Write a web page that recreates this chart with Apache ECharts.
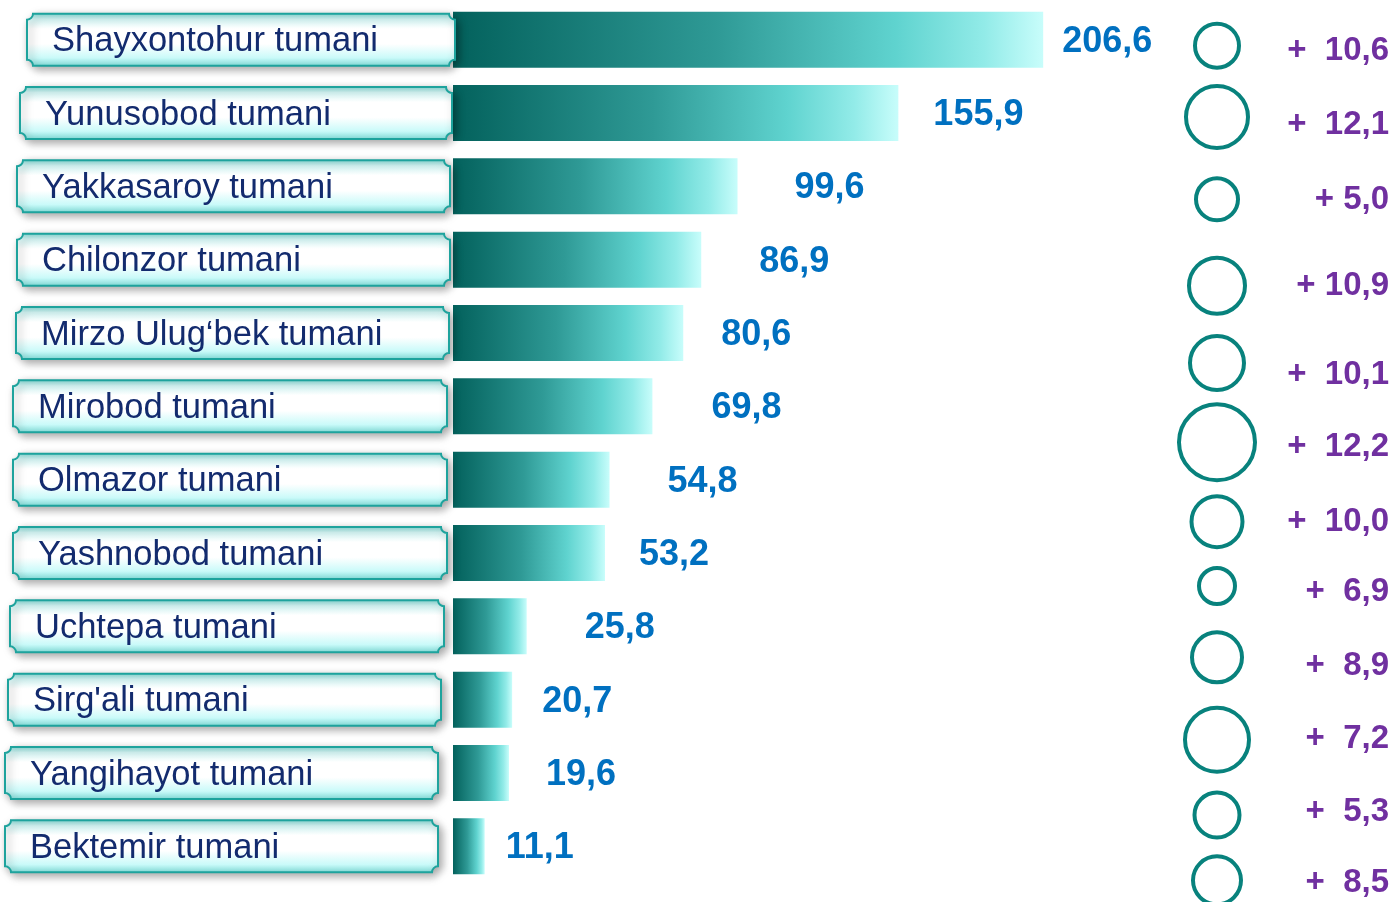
<!DOCTYPE html>
<html>
<head>
<meta charset="utf-8">
<title>Tumanlar</title>
<script src="https://cdn.jsdelivr.net/npm/echarts@6/dist/echarts.min.js"></script>
<style>
  html, body { margin: 0; padding: 0; background: #fff; }
  #chart { width: 1393px; height: 902px; }
</style>
</head>
<body>
<div id="chart"></div>
<script>
// districts, top to bottom
const districts = ['Shayxontohur tumani', 'Yunusobod tumani', 'Yakkasaroy tumani', 'Chilonzor tumani',
  'Mirzo Ulug‘bek tumani', 'Mirobod tumani', 'Olmazor tumani', 'Yashnobod tumani',
  'Uchtepa tumani', "Sirg'ali tumani", 'Yangihayot tumani', 'Bektemir tumani']
const values = [206.6, 155.9, 99.6, 86.9, 80.6, 69.8, 54.8, 53.2, 25.8, 20.7, 19.6, 11.1]
const growth = [10.6, 12.1, 5.0, 10.9, 10.1, 12.2, 10.0, 6.9, 8.9, 7.2, 5.3, 8.5]

// per-row layout tweaks (px), the slide is not perfectly aligned
const labelGap = [19, 35, 57, 58, 38, 59, 58, 34, 58, 30, 37, 21]
const boxShift = [2, -1, -3, -3, -4, -6, -6, -6, -9, -12, -15, -15]
const boxWidth = [428, 432, 433, 433, 433, 434, 434, 434, 434, 433, 433, 433]
const ringR = [22, 31, 21, 28, 27, 38, 25.5, 18, 25, 32, 22.5, 24]
const ringDy = [6, 4, 13, 26, 30, 36, 42, 33, 31, 40, 42, 34]
const growthDy = [11, 12, 14, 26, 42, 41, 42, 39, 40, 39, 39, 37]
const plusGap = [2, 2, 1, 1, 2, 2, 2, 2, 2, 2, 2, 2]

const font = '"Liberation Sans", Arial, sans-serif'
const fmt = v => v.toFixed(1).replace('.', ',')

const barFill = new echarts.graphic.LinearGradient(0, 0, 1, 0, [
  { offset: 0, color: '#03615c' },
  { offset: 0.45, color: '#2f9a96' },
  { offset: 0.75, color: '#5fd3cf' },
  { offset: 0.9, color: '#92ebe8' },
  { offset: 1, color: '#c8fdfb' }
])
const boxFill = new echarts.graphic.LinearGradient(0, 0, 0, 1, [
  { offset: 0, color: '#7fd6d2' },
  { offset: 0.12, color: '#d6f8f7' },
  { offset: 0.3, color: '#ffffff' },
  { offset: 0.58, color: '#ffffff' },
  { offset: 0.84, color: '#c9faf9' },
  { offset: 1, color: '#7fdfdb' }
])

function renderBox(params, api) {
  const i = params.dataIndex
  const c = api.coord([0, i])
  const x1 = c[0] + boxShift[i]
  const x0 = x1 - boxWidth[i]
  const y0 = c[1] - 26
  const y1 = c[1] + 26
  const r = 6
  // rectangle with small concave corners
  const d = [
    'M', x0 + r, y0, 'L', x1 - r, y0, 'A', r, r, 0, 0, 0, x1, y0 + r,
    'L', x1, y1 - r, 'A', r, r, 0, 0, 0, x1 - r, y1,
    'L', x0 + r, y1, 'A', r, r, 0, 0, 0, x0, y1 - r,
    'L', x0, y0 + r, 'A', r, r, 0, 0, 0, x0 + r, y0, 'Z'
  ].join(' ')
  return {
    type: 'group',
    children: [{
      type: 'path',
      shape: { pathData: d, x: x0, y: y0, width: x1 - x0, height: y1 - y0, layout: 'cover' },
      style: {
        fill: boxFill, stroke: '#1ea39d', lineWidth: 2,
        shadowBlur: 8, shadowColor: 'rgba(0,0,0,0.35)', shadowOffsetX: 3, shadowOffsetY: 3
      }
    }, {
      type: 'text',
      style: {
        text: districts[i], x: x0 + 25, y: c[1] + 2,
        align: 'left', verticalAlign: 'middle',
        fill: '#132b6e', font: '34.5px ' + font
      }
    }]
  }
}

function renderRing(params, api) {
  const i = params.dataIndex
  const c = api.coord([0, i])
  return {
    type: 'group',
    children: [{
      type: 'circle',
      shape: { cx: 1217, cy: c[1] + ringDy[i], r: ringR[i] },
      style: { fill: 'none', stroke: '#08827d', lineWidth: 4 }
    }, {
      type: 'text',
      style: {
        text: '+' + ' '.repeat(plusGap[i]) + fmt(growth[i]),
        x: 1389, y: c[1] + growthDy[i],
        align: 'right', verticalAlign: 'middle',
        fill: '#7030a0', font: 'bold 33px ' + font
      }
    }]
  }
}

const chart = echarts.init(document.getElementById('chart'))
chart.setOption({
  animation: false,
  grid: { left: 453, right: 83, top: 3, bottom: 19 },
  xAxis: { type: 'value', min: 0, max: 300, show: false },
  yAxis: { type: 'category', data: districts, inverse: true, show: false },
  series: [{
    type: 'bar',
    data: values.map((v, i) => ({ value: v, label: { distance: labelGap[i] } })),
    barWidth: 56,
    itemStyle: { color: barFill },
    label: {
      show: true,
      position: 'right',
      offset: [0, 2],
      formatter: p => fmt(p.value),
      color: '#0070c0',
      fontWeight: 'bold',
      fontSize: 36,
      fontFamily: font
    },
    z: 2
  }, {
    type: 'custom',
    renderItem: renderBox,
    data: districts.map((d, i) => [0, i]),
    encode: { x: 0, y: 1 },
    silent: true,
    z: 3
  }, {
    type: 'custom',
    renderItem: renderRing,
    data: growth.map((g, i) => [0, i]),
    encode: { x: 0, y: 1 },
    silent: true,
    z: 3
  }]
})
</script>
</body>
</html>
